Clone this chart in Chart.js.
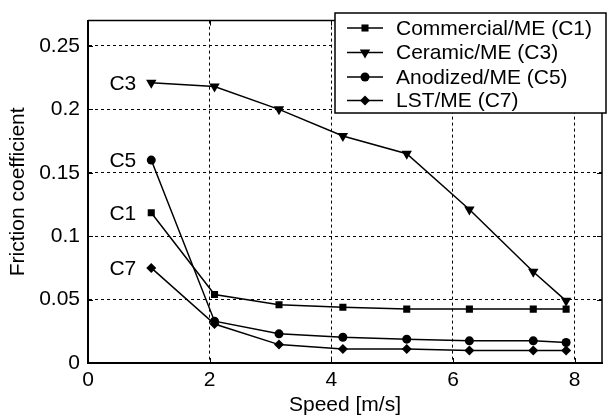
<!DOCTYPE html>
<html>
<head>
<meta charset="utf-8">
<script src="https://cdn.jsdelivr.net/npm/chart.js@4.4.0/dist/chart.umd.min.js"></script>
<style>
html,body{margin:0;padding:0;background:#fff;}
#c{display:block;}
</style>
</head>
<body>
<canvas id="c" width="608" height="418"></canvas>
<script>
const speed = [1.04, 2.08, 3.14, 4.19, 5.24, 6.27, 7.32, 7.86];
const c1 = [0.1185, 0.054, 0.046, 0.044, 0.0425, 0.0425, 0.0425, 0.0425];
const c3 = [0.221, 0.218, 0.200, 0.179, 0.165, 0.121, 0.072, 0.049];
const c5 = [0.160, 0.033, 0.023, 0.0203, 0.0188, 0.0175, 0.0175, 0.0162];
const c7 = [0.075, 0.0307, 0.0145, 0.011, 0.011, 0.0099, 0.0099, 0.0099];
const seriesNames = ['Commercial/ME (C1)', 'Ceramic/ME (C3)', 'Anodized/ME (C5)', 'LST/ME (C7)'];
const seriesTags = ['C1', 'C3', 'C5', 'C7'];
const xTicks = [0, 2, 4, 6, 8];
const yTicks = [0, 0.05, 0.1, 0.15, 0.2, 0.25];
const xTitle = 'Speed [m/s]';
const yTitle = 'Friction coefficient';

const FONT = '"Liberation Sans", Arial, Helvetica, sans-serif';
const styles = [
  {pointStyle: 'rect', radius: 5, rotation: 0},
  {pointStyle: 'triangle', radius: 6, rotation: 180},
  {pointStyle: 'circle', radius: 4.5, rotation: 0},
  {pointStyle: 'rectRot', radius: 5, rotation: 0}
];
const values = [c1, c3, c5, c7];

const datasets = values.map((arr, i) => ({
  label: seriesNames[i],
  data: speed.map((x, j) => ({x: x, y: arr[j]})),
  borderColor: '#000',
  backgroundColor: '#000',
  borderWidth: 1.5,
  pointStyle: styles[i].pointStyle,
  pointRadius: styles[i].radius,
  pointRotation: styles[i].rotation,
  pointBorderWidth: 0,
  pointBackgroundColor: '#000',
  tension: 0,
  fill: false
}));

const framePlugin = {
  id: 'frame',
  afterDraw(chart) {
    const ctx = chart.ctx;
    const a = chart.chartArea;
    const xs = chart.scales.x, ys = chart.scales.y;
    ctx.save();
    ctx.strokeStyle = '#000';
    ctx.lineWidth = 1;
    ctx.setLineDash([]);
    xTicks.forEach(v => {
      if (v === 0) return;
      const px = Math.round(xs.getPixelForValue(v)) + 0.5;
      ctx.beginPath();
      ctx.moveTo(px, a.bottom); ctx.lineTo(px, a.bottom - 5);
      ctx.moveTo(px, a.top); ctx.lineTo(px, a.top + 5);
      ctx.stroke();
    });
    yTicks.forEach(v => {
      if (v === 0) return;
      const py = Math.round(ys.getPixelForValue(v)) + 0.5;
      ctx.beginPath();
      ctx.moveTo(a.left, py); ctx.lineTo(a.left + 5, py);
      ctx.moveTo(a.right, py); ctx.lineTo(a.right - 5, py);
      ctx.stroke();
    });
    ctx.lineWidth = 1.5;
    ctx.beginPath();
    ctx.moveTo(a.left, a.top); ctx.lineTo(a.right, a.top); ctx.lineTo(a.right, a.bottom);
    ctx.stroke();

    ctx.font = '21px ' + FONT;
    ctx.fillStyle = '#000';
    ctx.textAlign = 'right';
    ctx.textBaseline = 'middle';
    chart.data.datasets.forEach((ds, i) => {
      const meta = chart.getDatasetMeta(i);
      const p = meta.data[0];
      ctx.fillText(seriesTags[i], p.x - 15, p.y + 1);
    });

    const lx = 335, ly = 13, lw = 271, lh = 100;
    ctx.fillStyle = '#fff';
    ctx.fillRect(lx, ly, lw, lh);
    ctx.lineWidth = 1.5;
    ctx.strokeStyle = '#000';
    ctx.strokeRect(lx, ly, lw, lh);
    const rowY = [28, 52.5, 77, 100.5];
    ctx.font = '21px ' + FONT;
    ctx.textAlign = 'left';
    ctx.textBaseline = 'middle';
    chart.data.datasets.forEach((ds, i) => {
      const y = rowY[i];
      ctx.strokeStyle = '#000';
      ctx.lineWidth = 1.5;
      ctx.beginPath();
      ctx.moveTo(347, y); ctx.lineTo(383, y);
      ctx.stroke();
      ctx.fillStyle = '#000';
      Chart.helpers.drawPoint(ctx, {
        pointStyle: styles[i].pointStyle,
        rotation: styles[i].rotation,
        radius: styles[i].radius,
        borderWidth: 0
      }, 365, y);
      ctx.fillStyle = '#000';
      ctx.fillText(ds.label, 396, y + 1);
    });
    ctx.restore();
  }
};

const chart = new Chart(document.getElementById('c'), {
  type: 'line',
  data: {datasets: datasets},
  options: {
    responsive: false,
    animation: false,
    devicePixelRatio: 1,
    layout: {padding: {top: 9, right: 1, left: 0, bottom: 0}},
    plugins: {legend: {display: false}, tooltip: {enabled: false}},
    scales: {
      x: {
        type: 'linear',
        min: 0, max: 8.45,
        afterBuildTicks: s => { s.ticks = xTicks.map(v => ({value: v})); },
        afterFit: s => { s.height = 55; },
        ticks: {
          color: '#000',
          font: {family: FONT, size: 21},
          padding: 5,
          maxRotation: 0,
          callback: v => String(v)
        },
        grid: {color: '#000', lineWidth: 1, drawTicks: false},
        border: {display: true, color: '#000', width: 2, dash: [3, 3]},
        title: {display: true, text: xTitle, color: '#000', font: {family: FONT, size: 21}, padding: {top: 0, bottom: 0}}
      },
      y: {
        type: 'linear',
        min: 0, max: 0.27,
        afterBuildTicks: s => { s.ticks = yTicks.map(v => ({value: v})); },
        afterFit: s => { s.width = 88; },
        ticks: {
          color: '#000',
          font: {family: FONT, size: 21},
          padding: 8,
          callback: v => String(Math.round(v * 100) / 100)
        },
        grid: {color: '#000', lineWidth: 1, drawTicks: false},
        border: {display: true, color: '#000', width: 2, dash: [3, 3]},
        title: {display: true, text: yTitle, color: '#000', font: {family: FONT, size: 21}, padding: {top: 6, bottom: 0}}
      }
    }
  },
  plugins: [framePlugin]
});
</script>
</body>
</html>
